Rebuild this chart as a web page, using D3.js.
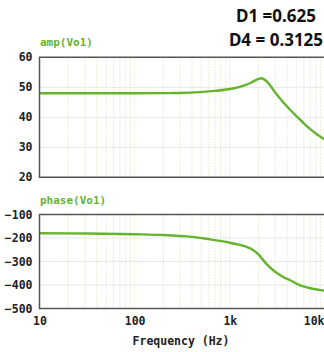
<!DOCTYPE html>
<html lang="en">
<head>
<meta charset="UTF-8">
<title>Bode plot</title>
<script src="https://d3js.org/d3.v7.min.js"></script>
<style>
  body { margin: 0; background: #fff; }
  .tick text { font-family: "DejaVu Sans Mono", monospace; font-weight: bold; font-size: 11.5px; fill: #222; }
</style>
</head>
<body>
<svg></svg>
<script>
var width = 324, height = 352;

// frequency points (Hz) and readings
var freq  = [10, 30, 100, 200, 300, 485, 700, 1079, 1500, 1750, 1970, 2150, 2400, 2630, 3000, 3600, 4300, 5070, 6000, 6900, 8000, 9500, 10000];
var amp   = [48.0, 48.0, 48.0, 48.05, 48.1, 48.4, 48.8, 49.6, 50.9, 51.9, 52.7, 53.0, 52.2, 50.8, 48.3, 45.2, 42.5, 40.2, 38.0, 36.2, 34.6, 33.0, 32.6];
var phFreq  = [10, 30, 100, 200, 400, 620, 1000, 1270, 1500, 1750, 2000, 2200, 2450, 2800, 3100, 3600, 4300, 5000, 5800, 7000, 8500, 10000];
var phase   = [-180, -181, -184, -187, -195, -206, -220, -229, -238, -251, -270, -290, -312, -334, -348, -365, -380, -394, -405, -414, -420, -425];

var ampTicks = [20, 30, 40, 50, 60];
var phaseTicks = [-500, -400, -300, -200, -100];
var freqTicks = [10, 100, 1000, 10000];
var freqLabels = ["10", "100", "1k", "10k"];

var svg = d3.select("svg").attr("width", width).attr("height", height);

var x = d3.scaleLog().domain([10, 10000]).range([39.5, 325]);
var yAmp = d3.scaleLinear().domain([20, 60]).range([177.3, 57.3]);
var yPh = d3.scaleLinear().domain([-500, -100]).range([308.5, 214.5]);

var green = "#66b32e";

// minor grid values 10..10000
var minor = [];
[10, 100, 1000].forEach(function (d) {
    for (var k = 1; k < 10; k++) minor.push(d * k);
});
minor.push(10000);

function panel(y, ticks, data, xs, title) {
    var g = svg.append("g");
    var y0 = y.range()[0], y1 = y.range()[1];

    g.selectAll(".vgrid").data(minor.slice(1)).enter().append("line")
        .attr("x1", function (d) { return x(d); })
        .attr("x2", function (d) { return x(d); })
        .attr("y1", y1).attr("y2", y0)
        .attr("stroke", "#e9eed6")
        .attr("stroke-width", 1)
        .attr("stroke-dasharray", "2,1");

    g.selectAll(".hgrid").data(ticks.slice(1, -1)).enter().append("line")
        .attr("x1", x.range()[0]).attr("x2", width)
        .attr("y1", function (d) { return y(d); })
        .attr("y2", function (d) { return y(d); })
        .attr("stroke", "#dcdcdc")
        .attr("stroke-dasharray", "2,1");

    var line = d3.line()
        .x(function (d, i) { return x(xs[i]); })
        .y(function (d) { return y(d); })
        .curve(d3.curveCatmullRom);
    g.append("path").datum(data)
        .attr("d", line)
        .attr("fill", "none")
        .attr("stroke", green)
        .attr("stroke-width", 2.4);

    // frame
    g.append("path")
        .attr("d", "M" + width + "," + y1 + "H" + x.range()[0] + "V" + y0 + "H" + width)
        .attr("fill", "none")
        .attr("stroke", "#555")
        .attr("stroke-width", 1.5);

    var ax = d3.axisLeft(y).tickValues(ticks).tickSize(0).tickPadding(7).tickFormat(d3.format("d"));
    g.append("g").attr("transform", "translate(" + x.range()[0] + ",0)")
        .call(ax)
        .call(function (s) { s.select(".domain").remove(); });

    g.append("text")
        .attr("x", 40).attr("y", y1 - 11)
        .attr("font-family", "DejaVu Sans Mono, monospace")
        .attr("font-weight", "bold")
        .attr("font-size", "11px")
        .attr("fill", green)
        .text(title);
}

panel(yAmp, ampTicks, amp, freq, "amp(Vo1)");
panel(yPh, phaseTicks, phase, phFreq, "phase(Vo1)");

var xAxis = d3.axisBottom(x).tickValues(freqTicks).tickSize(0).tickPadding(8)
    .tickFormat(function (d, i) { return freqLabels[i]; });
var gx = svg.append("g").attr("transform", "translate(0," + 308.5 + ")").call(xAxis);
gx.select(".domain").remove();
gx.selectAll(".tick text").filter(function (d) { return d === 10000; })
    .attr("text-anchor", "end").attr("dx", "-1");

svg.append("text")
    .attr("x", 181).attr("y", 345)
    .attr("text-anchor", "middle")
    .attr("font-family", "DejaVu Sans Mono, monospace")
    .attr("font-weight", "bold")
    .attr("font-size", "11.5px")
    .attr("fill", "#222")
    .text("Frequency (Hz)");

svg.append("text")
    .attr("x", 276).attr("y", 22).attr("text-anchor", "middle")
    .attr("font-family", "Noto Sans, sans-serif").attr("font-size", "17px")
    .attr("font-weight", "bold").attr("fill", "#111")
    .text("D1 =0.625");
svg.append("text")
    .attr("x", 276).attr("y", 46).attr("text-anchor", "middle")
    .attr("font-family", "Noto Sans, sans-serif").attr("font-size", "17px")
    .attr("font-weight", "bold").attr("fill", "#111")
    .text("D4 = 0.3125");
</script>
</body>
</html>
